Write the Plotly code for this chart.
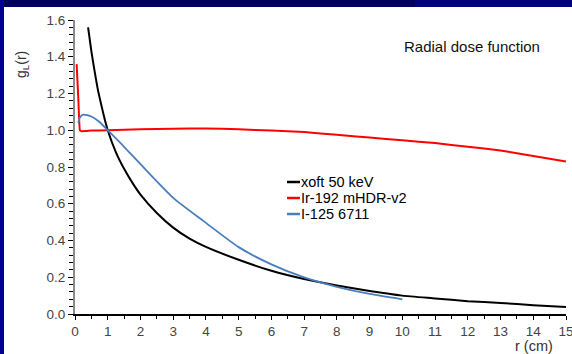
import plotly.graph_objects as go

# ---- data ----
xoft_r = [0.4, 0.5, 0.6, 0.7, 0.8, 0.9, 1.0, 1.25, 1.5, 1.75, 2.0, 2.5, 3.0, 3.5, 4.0, 5.0, 6.0, 7.0, 8.0, 9.0, 10.0, 11.0, 12.0, 13.0, 14.0, 15.0]
xoft_g = [1.56, 1.43, 1.32, 1.22, 1.14, 1.065, 1.0, 0.88, 0.79, 0.715, 0.65, 0.55, 0.47, 0.41, 0.365, 0.295, 0.235, 0.19, 0.155, 0.125, 0.10, 0.085, 0.07, 0.06, 0.048, 0.038]

ir_r = [0.05, 0.1, 0.15, 0.2, 0.5, 1.0, 2.0, 3.0, 4.0, 5.0, 6.0, 7.0, 8.0, 9.0, 10.0, 11.0, 12.0, 13.0, 14.0, 15.0]
ir_g = [1.36, 1.18, 1.0, 0.995, 0.998, 1.0, 1.005, 1.008, 1.01, 1.005, 0.998, 0.99, 0.975, 0.96, 0.945, 0.93, 0.91, 0.89, 0.86, 0.83]

i125_r = [0.1, 0.15, 0.25, 0.5, 0.75, 1.0, 1.5, 2.0, 3.0, 4.0, 5.0, 6.0, 7.0, 8.0, 9.0, 10.0]
i125_g = [1.04, 1.07, 1.085, 1.075, 1.045, 1.0, 0.91, 0.815, 0.632, 0.496, 0.364, 0.27, 0.199, 0.148, 0.109, 0.08]

series_names = ["xoft 50 keV", "Ir-192 mHDR-v2", "I-125 6711"]
series_colors = ["#000000", "#ff0000", "#4a7ebb"]
x_ticks = list(range(0, 16))
y_ticks = [0.0, 0.2, 0.4, 0.6, 0.8, 1.0, 1.2, 1.4, 1.6]

# ---- figure ----
W, H = 572, 354
L, R, T, B = 75, 6, 20, 40
pw, ph = W - L - R, H - T - B

def px(xp):
    return (xp - L) / pw

def py(yp):
    return (H - B - yp) / ph

fig = go.Figure()
for xs, ys, name, col, w, sm in [(xoft_r, xoft_g, series_names[0], series_colors[0], 2, 0.5),
                                 (ir_r, ir_g, series_names[1], series_colors[1], 2, 0.3),
                                 (i125_r, i125_g, series_names[2], series_colors[2], 1.8, 0.6)]:
    fig.add_trace(go.Scatter(x=xs, y=ys, mode="lines", name=name,
                             line=dict(color=col, width=w, shape="spline", smoothing=sm),
                             showlegend=False))

font = "Liberation Sans, Arial, sans-serif"

shapes = [
    # slide decoration: top band and left border
    dict(type="rect", xref="paper", yref="paper", x0=px(0), x1=px(415), y0=py(7), y1=py(0),
         fillcolor="#000060", line=dict(width=0), layer="below"),
    dict(type="rect", xref="paper", yref="paper", x0=px(415), x1=px(W), y0=py(7), y1=py(0),
         fillcolor="#000080", line=dict(width=0), layer="below"),
    dict(type="rect", xref="paper", yref="paper", x0=px(0), x1=px(4), y0=py(H), y1=py(0),
         fillcolor="#000090", line=dict(width=0), layer="below"),
]
annotations = []
leg_rows = [182, 198, 214]
for name, col, yy in zip(series_names, series_colors, leg_rows):
    shapes.append(dict(type="line", xref="paper", yref="paper", x0=px(287), x1=px(300),
                       y0=py(yy), y1=py(yy), line=dict(color=col, width=2.5)))
    annotations.append(dict(text=name, xref="paper", yref="paper", x=px(299), y=py(yy),
                            xanchor="left", yanchor="middle", showarrow=False,
                            font=dict(family=font, size=14.5, color="#000")))

annotations += [
    dict(text="Radial dose function", xref="paper", yref="paper", x=px(402), y=py(46),
         xanchor="left", yanchor="middle", showarrow=False,
         font=dict(family=font, size=15, color="#111")),
    dict(text="g<sub>L</sub>(r)", xref="paper", yref="paper", x=px(22), y=py(65),
         xanchor="center", yanchor="middle", showarrow=False, textangle=-90,
         font=dict(family=font, size=14, color="#333")),
    dict(text="r (cm)", xref="paper", yref="paper", x=px(534), y=py(346),
         xanchor="center", yanchor="middle", showarrow=False,
         font=dict(family=font, size=14.5, color="#333")),
]

fig.update_layout(
    width=W, height=H,
    margin=dict(l=L, r=R, t=T, b=B, pad=0, autoexpand=False),
    paper_bgcolor="white", plot_bgcolor="white",
    shapes=shapes, annotations=annotations,
    font=dict(family=font, size=13, color="#444"),
    xaxis=dict(range=[0, 15], tickvals=x_ticks, ticktext=[str(v) for v in x_ticks],
               showgrid=False, zeroline=False, showline=True, linecolor="#000", linewidth=1.5,
               ticks="outside", ticklen=4, tickcolor="#000", tickwidth=1,
               ticklabeloverflow="allow", automargin=False,
               minor=dict(dtick=0.5, ticks="outside", ticklen=3, tickcolor="#000", showgrid=False),
               tickfont=dict(size=13.5, color="#444")),
    yaxis=dict(range=[0, 1.6], tickvals=y_ticks, ticktext=["%.1f" % v for v in y_ticks],
               showgrid=False, zeroline=False, showline=True, linecolor="#8a8a8a", linewidth=2,
               ticks="outside", ticklen=5, tickcolor="#000", tickwidth=1, automargin=False,
               minor=dict(dtick=0.04, ticks="outside", ticklen=4, tickcolor="#000", showgrid=False),
               tickfont=dict(size=13.5, color="#444")),
)

fig.write_html("out.html")
